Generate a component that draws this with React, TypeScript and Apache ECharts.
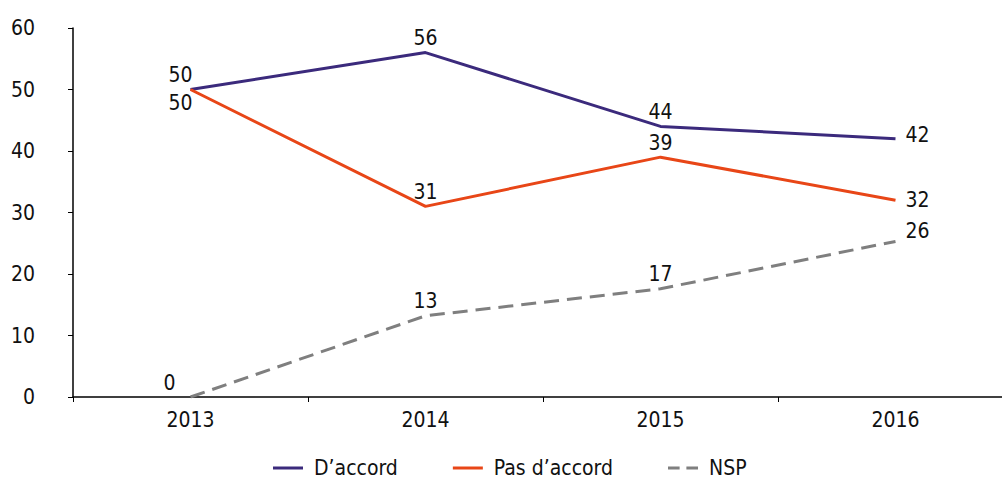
import React, { useEffect, useRef } from "react";
import * as echarts from "echarts";

const categories = ["2013", "2014", "2015", "2016"];
const daccordValues = [50, 56, 44, 42];
const pasDaccordValues = [50, 31, 39, 32];
const nspValues = [0, 13.2, 17.6, 25.3];
const nspLabels = ["0", "13", "17", "26"];
const yTicks = [0, 10, 20, 30, 40, 50, 60];

const FONT = "'DejaVu Sans Condensed', 'Liberation Sans Narrow', 'Noto Sans', sans-serif";

export default function App() {
  const ref = useRef<HTMLDivElement>(null);
  useEffect(() => {
    if (!ref.current) return;
    const chart = echarts.init(ref.current, null, { renderer: "svg" });
    const last = categories.length - 1;
    const lbl = { color: "#111", fontSize: 21, fontFamily: FONT };
    const mk = (vals: number[], pos: (i: number) => any, texts?: string[]) =>
      vals.map((v, i) => ({
        value: v,
        label: { ...lbl, show: true, ...pos(i), formatter: texts ? texts[i] : String(v) },
      }));
    const solidIcon = "path://M0,0L30,0L30,3L0,3Z";
    const dashIcon = "path://M0,0L12,0L12,3L0,3Z M19,0L31,0L31,3L19,3Z";
    chart.setOption({
      animation: false,
      textStyle: { fontFamily: FONT },
      grid: {
        left: 73,
        top: 28,
        width: 940,
        height: 369,
        containLabel: false,
        outerBoundsMode: "none",
      },
      legend: {
        top: 457,
        left: 273,
        padding: 0,
        itemWidth: 30,
        itemHeight: 3,
        itemGap: 55,
        textStyle: {
          fontSize: 21,
          lineHeight: 22,
          color: "#111",
          fontFamily: FONT,
          padding: [0, 0, 0, 6],
        },
        data: [
          { name: "D\u2019accord", icon: solidIcon },
          { name: "Pas d\u2019accord", icon: solidIcon },
          { name: "NSP", icon: dashIcon },
        ],
      },
      xAxis: {
        type: "category",
        data: categories,
        boundaryGap: true,
        axisLine: { lineStyle: { color: "#000", width: 1.5 } },
        axisTick: { show: true, length: 5, lineStyle: { color: "#000" } },
        axisLabel: { fontSize: 21, color: "#111", fontFamily: FONT, margin: 12 },
      },
      yAxis: {
        type: "value",
        min: 0,
        max: 60,
        interval: 10,
        axisLine: { show: true, lineStyle: { color: "#000", width: 1.5 } },
        axisTick: { show: true, length: 5, lineStyle: { color: "#000" } },
        splitLine: { show: false },
        axisLabel: {
          fontSize: 21,
          color: "#111",
          fontFamily: FONT,
          margin: 38,
          formatter: (v: number) => (yTicks.includes(v) ? String(v) : ""),
        },
      },
      series: [
        {
          name: "D\u2019accord",
          type: "line",
          symbol: "circle",
          symbolSize: 0,
          showSymbol: true,
          lineStyle: { color: "#3b2a7c", width: 3 },
          itemStyle: { color: "#3b2a7c" },
          data: mk(daccordValues, (i) =>
            i === 0
              ? { position: "top", distance: 4, offset: [-10, 0] }
              : i === last
              ? { position: "right", distance: 10, offset: [0, -4] }
              : { position: "top", distance: 4 }
          ),
        },
        {
          name: "Pas d\u2019accord",
          type: "line",
          symbol: "circle",
          symbolSize: 0,
          showSymbol: true,
          lineStyle: { color: "#e84617", width: 3 },
          itemStyle: { color: "#e84617" },
          data: mk(pasDaccordValues, (i) =>
            i === 0
              ? { position: "bottom", distance: 3, offset: [-10, 0] }
              : i === last
              ? { position: "right", distance: 10 }
              : { position: "top", distance: 4 }
          ),
        },
        {
          name: "NSP",
          type: "line",
          symbol: "circle",
          symbolSize: 0,
          showSymbol: true,
          lineStyle: { color: "#7f7f7f", width: 3, type: [15, 8] },
          itemStyle: { color: "#7f7f7f" },
          data: mk(
            nspValues,
            (i) =>
              i === 0
                ? { position: "top", distance: 4, offset: [-21, 0] }
                : i === last
                ? { position: "right", distance: 10, offset: [0, -10] }
                : { position: "top", distance: 4 },
            nspLabels
          ),
        },
      ],
    });
    return () => chart.dispose();
  }, []);
  return <div ref={ref} style={{ width: 1002, height: 480, position: "absolute", left: 0, top: 0 }} />;
}
